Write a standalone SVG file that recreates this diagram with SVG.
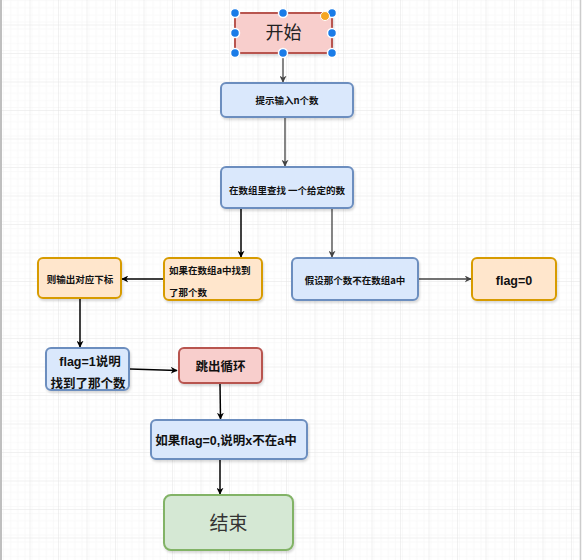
<svg xmlns="http://www.w3.org/2000/svg" width="583" height="560" viewBox="0 0 583 560">
<defs>
<pattern id="gridMinor" width="7.125" height="7.125" patternUnits="userSpaceOnUse" x="2" y="-3">
<path d="M7.125 0V7.125M0 7.125H7.125" fill="none" stroke="#f4f4f4" stroke-width="1"/>
</pattern>
<pattern id="gridMajor" width="28.5" height="28.5" patternUnits="userSpaceOnUse" x="2" y="-3">
<rect width="28.5" height="28.5" fill="url(#gridMinor)"/>
<path d="M28.5 0V28.5M0 28.5H28.5" fill="none" stroke="#e4e4e4" stroke-width="1"/>
</pattern>
<marker id="arrB" viewBox="0 0 10 10" refX="9" refY="5" markerWidth="7" markerHeight="7" orient="auto" markerUnits="userSpaceOnUse">
<path d="M0 0L10 5L0 10L3 5Z" fill="#000"/>
</marker>
<marker id="arrG" viewBox="0 0 10 10" refX="9" refY="5" markerWidth="7" markerHeight="7" orient="auto" markerUnits="userSpaceOnUse">
<path d="M0 0L10 5L0 10L3 5Z" fill="#444"/>
</marker>
<filter id="sh" x="-10%" y="-10%" width="130%" height="140%">
<feDropShadow dx="1" dy="2" stdDeviation="1" flood-color="#000" flood-opacity="0.15"/>
</filter>
</defs>
<style>
.blue{fill:#dae8fc;stroke:#6c8ebf;stroke-width:2}
.orange{fill:#ffe6cc;stroke:#d79b00;stroke-width:2}
.red{fill:#f8cecc;stroke:#b85450;stroke-width:2}
.green{fill:#d5e8d4;stroke:#82b366;stroke-width:2}
.s{font-family:"Noto Sans CJK SC","Liberation Serif",serif;font-weight:bold;font-size:9.5px;fill:#111}
.b{font-family:"Liberation Sans","Noto Sans CJK SC",sans-serif;font-weight:bold;font-size:12.5px;fill:#111}
.big{font-family:"Liberation Sans","Noto Sans CJK SC",sans-serif;font-size:18px;fill:#222}
.lb{stroke:#000;stroke-width:1.5;fill:none}
.lg{stroke:#444;stroke-width:1.3;fill:none}
.h{fill:#1a7ce8;stroke:#fff;stroke-width:1.5}
</style>
<rect width="583" height="560" fill="#fff"/>
<rect x="2" y="0" width="578" height="560" fill="url(#gridMajor)"/>
<line x1="1" y1="0" x2="1" y2="560" stroke="#aaa" stroke-width="1.5"/>
<line x1="580.5" y1="0" x2="580.5" y2="560" stroke="#ccc" stroke-width="1.5"/>

<g id="connectors">
<line class="lg" x1="283" y1="54" x2="283" y2="82" marker-end="url(#arrG)"/>
<line class="lg" x1="285" y1="118" x2="285" y2="166" marker-end="url(#arrG)"/>
<line class="lb" x1="241" y1="209" x2="241" y2="257" marker-end="url(#arrB)"/>
<line class="lg" x1="332" y1="209" x2="332" y2="257" marker-end="url(#arrG)"/>
<line class="lb" x1="164" y1="279" x2="122" y2="279" marker-end="url(#arrB)"/>
<line class="lg" x1="419" y1="279" x2="471" y2="279" marker-end="url(#arrG)"/>
<line class="lb" x1="80" y1="299" x2="80" y2="347" marker-end="url(#arrB)"/>
<line class="lb" x1="130" y1="369" x2="177" y2="370.5" marker-end="url(#arrB)"/>
<line class="lb" x1="220" y1="384" x2="220.5" y2="419" marker-end="url(#arrB)"/>
<line class="lb" x1="220" y1="460" x2="220" y2="494" marker-end="url(#arrB)"/>
</g>

<g id="start">
<rect class="red" x="235" y="13" width="97" height="40" rx="4" filter="url(#sh)"/>
<text class="big" x="283.5" y="39" text-anchor="middle">开始</text>
</g>
<g id="input">
<rect class="blue" x="221" y="83" width="132" height="34" rx="5" filter="url(#sh)"/>
<text class="s" x="287" y="103.5" text-anchor="middle">提示输入n个数</text>
</g>
<g id="search">
<rect class="blue" x="221" y="167" width="132" height="41" rx="5" filter="url(#sh)"/>
<text class="s" x="287" y="193.5" text-anchor="middle">在数组里查找 一个给定的数</text>
</g>
<g id="found">
<rect class="orange" x="164" y="258" width="98" height="42" rx="5" filter="url(#sh)"/>
<text class="s" x="169" y="273.5">如果在数组a中找到</text>
<text class="s" x="169" y="295.5">了那个数</text>
</g>
<g id="output">
<rect class="orange" x="38" y="258" width="83" height="40" rx="5" filter="url(#sh)"/>
<text class="s" x="80" y="283" text-anchor="middle">则输出对应下标</text>
</g>
<g id="assume">
<rect class="blue" x="292" y="258" width="126" height="42" rx="5" filter="url(#sh)"/>
<text class="s" x="355" y="283.5" text-anchor="middle">假设那个数不在数组a中</text>
</g>
<g id="flag0">
<rect class="orange" x="472" y="258" width="84" height="42" rx="5" filter="url(#sh)"/>
<text class="b" x="514" y="284.5" text-anchor="middle">flag=0</text>
</g>
<g id="flag1">
<rect class="blue" x="46" y="348" width="83" height="42" rx="5" filter="url(#sh)"/>
<text class="b" x="90" y="366" text-anchor="middle">flag=1说明</text>
<text class="b" x="88" y="388" text-anchor="middle">找到了那个数</text>
</g>
<g id="break">
<rect class="red" x="179" y="348" width="83" height="35" rx="5" filter="url(#sh)"/>
<text class="b" x="220.5" y="370.5" text-anchor="middle">跳出循环</text>
</g>
<g id="notfound">
<rect class="blue" x="151" y="420" width="156" height="39" rx="5" filter="url(#sh)"/>
<text class="b" x="226" y="444.5" text-anchor="middle">如果flag=0,说明x不在a中</text>
</g>
<g id="end">
<rect class="green" x="164" y="495" width="129" height="55" rx="7" filter="url(#sh)"/>
<text class="big" x="228.5" y="530" text-anchor="middle" style="font-size:19px;fill:#333">结束</text>
</g>

<g id="selection">
<circle class="h" cx="235" cy="13" r="4.5"/>
<circle class="h" cx="283" cy="13" r="4.5"/>
<circle class="h" cx="332" cy="13" r="4.5"/>
<circle class="h" cx="235" cy="33" r="4.5"/>
<circle class="h" cx="332" cy="33" r="4.5"/>
<circle class="h" cx="235" cy="53" r="4.5"/>
<circle class="h" cx="283" cy="53" r="4.5"/>
<circle class="h" cx="332" cy="53" r="4.5"/>
<circle cx="325" cy="16" r="4.5" fill="#f5a623" stroke="#fff" stroke-width="1"/>
</g>
</svg>
